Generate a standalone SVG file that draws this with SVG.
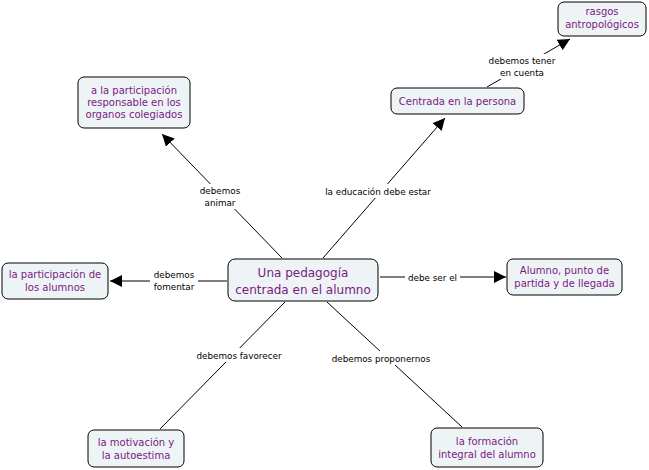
<svg xmlns="http://www.w3.org/2000/svg" width="649" height="470" viewBox="0 0 649 470">
<style>
.n{fill:#eef3f6;stroke:#000;stroke-width:1}
.t{font-family:"DejaVu Sans",Verdana,sans-serif;font-size:10px;fill:#7a1a82;text-anchor:middle}
.tc{font-family:"DejaVu Sans",Verdana,sans-serif;font-size:12px;fill:#7a1a82;text-anchor:middle}
.l{font-family:"DejaVu Sans",Verdana,sans-serif;font-size:8.8px;fill:#000;text-anchor:middle}
.c{stroke:#000;stroke-width:1;fill:none}
.bg{fill:#fff}
</style>
<defs>
<marker id="a" viewBox="0 0 10 10" refX="10" refY="5" markerWidth="12" markerHeight="12" markerUnits="userSpaceOnUse" orient="auto">
<path d="M0,0 L10,5 L0,10 z" fill="#000"/>
</marker>
</defs>
<rect width="649" height="470" fill="#fff"/>
<g id="connectors">
<line class="c" x1="282" y1="258" x2="162" y2="134" marker-end="url(#a)"/>
<line class="c" x1="323" y1="258" x2="445" y2="118" marker-end="url(#a)"/>
<line class="c" x1="487" y1="87" x2="570" y2="39" marker-end="url(#a)"/>
<line class="c" x1="227" y1="281" x2="110" y2="281" marker-end="url(#a)"/>
<line class="c" x1="380" y1="277" x2="506" y2="277" marker-end="url(#a)"/>
<line class="c" x1="285" y1="302" x2="160" y2="429"/>
<line class="c" x1="327" y1="302" x2="462" y2="427"/>
<rect class="bg" x="196" y="184" width="48" height="25"/>
<text class="l" x="220" y="194">debemos</text>
<text class="l" x="220" y="206">animar</text>
<rect class="bg" x="323" y="184" width="110" height="14"/>
<text class="l" x="378" y="194.5">la educación debe estar</text>
<rect class="bg" x="487" y="54" width="70" height="25"/>
<text class="l" x="522" y="64">debemos tener</text>
<text class="l" x="522" y="76">en cuenta</text>
<rect class="bg" x="150" y="268" width="48" height="25"/>
<text class="l" x="174" y="278">debemos</text>
<text class="l" x="174" y="290">fomentar</text>
<rect class="bg" x="405" y="270" width="55" height="14"/>
<text class="l" x="432.5" y="280.5">debe ser el</text>
<rect class="bg" x="196" y="348" width="86" height="14"/>
<text class="l" x="239" y="358.5">debemos favorecer</text>
<rect class="bg" x="331" y="351" width="100" height="14"/>
<text class="l" x="381" y="361.5">debemos proponernos</text>
</g>
<g id="central">
<rect class="n" x="228" y="259" width="150" height="42" rx="7"/>
<text class="tc" x="303" y="277">Una pedagogía</text>
<text class="tc" x="303" y="294">centrada en el alumno</text>
</g>
<g id="persona">
<rect class="n" x="391" y="88" width="133" height="26" rx="6"/>
<text class="t" x="457.5" y="105">Centrada en la persona</text>
</g>
<g id="rasgos">
<rect class="n" x="558" y="2" width="88" height="34" rx="6"/>
<text class="t" x="602" y="15">rasgos</text>
<text class="t" x="602" y="28">antropológicos</text>
</g>
<g id="organos">
<rect class="n" x="78" y="77" width="112" height="51" rx="6"/>
<text class="t" x="134" y="94">a la participación</text>
<text class="t" x="134" y="106">responsable en los</text>
<text class="t" x="134" y="118">organos colegiados</text>
</g>
<g id="participacion">
<rect class="n" x="2" y="263" width="106" height="36" rx="6"/>
<text class="t" x="55" y="278">la participación de</text>
<text class="t" x="55" y="291">los alumnos</text>
</g>
<g id="alumno">
<rect class="n" x="507" y="259" width="115" height="36" rx="6"/>
<text class="t" x="564.5" y="274">Alumno, punto de</text>
<text class="t" x="564.5" y="287">partida y de llegada</text>
</g>
<g id="motivacion">
<rect class="n" x="88" y="430" width="96" height="37" rx="6"/>
<text class="t" x="136" y="446">la motivación y</text>
<text class="t" x="136" y="459">la autoestima</text>
</g>
<g id="formacion">
<rect class="n" x="431" y="428" width="112" height="39" rx="6"/>
<text class="t" x="487" y="445">la formación</text>
<text class="t" x="487" y="458">integral del alumno</text>
</g>
</svg>
